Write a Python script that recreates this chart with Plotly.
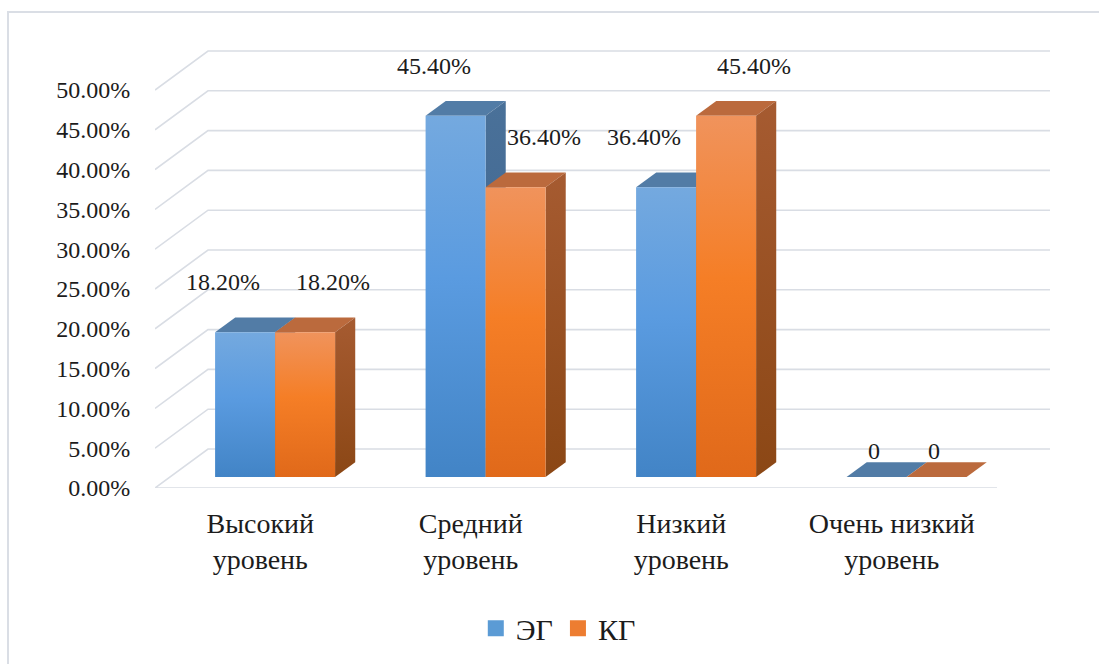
import plotly.graph_objects as go

# ---------------- data ----------------
categories = ["Высокий<br>уровень", "Средний<br>уровень", "Низкий<br>уровень", "Очень низкий<br>уровень"]
series_names = ["ЭГ", "КГ"]
eg_values = [18.2, 45.4, 36.4, 0.0]
kg_values = [18.2, 36.4, 45.4, 0.0]
y_ticks = [0, 5, 10, 15, 20, 25, 30, 35, 40, 45, 50]
y_tick_labels = ["0.00%", "5.00%", "10.00%", "15.00%", "20.00%", "25.00%",
                 "30.00%", "35.00%", "40.00%", "45.00%", "50.00%"]

# ---------------- style ----------------
FONT = "Liberation Serif, Times New Roman, serif"
TXT = "#1c1c1c"
GRID = "#d9dde4"
PX_PER_PCT = 7.96
PX_PER_CAT = 210.5
DX = 53 / PX_PER_CAT          # depth offset in category units
DY = 39 / PX_PER_PCT          # depth offset in percent units
F0, F1 = 0.28, 0.66           # bar depth span (fraction of full depth)
BAR_W = 60 / PX_PER_CAT

styles = [
    dict(front=[[0, "#4284c6"], [0.55, "#5a9be0"], [1, "#74a9df"]],
         side=[[0, "#395f8c"], [1, "#4a7199"]],
         top="#527ca6", legend="#5b9bd5", dx=-22, dx0=-3),
    dict(front=[[0, "#e0691a"], [0.55, "#f57e26"], [1, "#f0935c"]],
         side=[[0, "#8b4715"], [1, "#a65b31"]],
         top="#bb6a3d", legend="#ed7d31", dx=28, dx0=-3),
]

fig = go.Figure()

# ---------------- walls / gridlines ----------------
n = len(categories)
gx, gy = [], []
for t in y_ticks:
    if t == 0:
        gx += [n, 0]
        gy += [0, 0]
    else:
        gx += [0]
        gy += [t]
    gx += [DX, n + DX, None]
    gy += [t + DY, t + DY, None]
fig.add_trace(go.Scatter(x=gx, y=gy, mode="lines", line=dict(color=GRID, width=1.6),
                         hoverinfo="skip", showlegend=False))

# ---------------- 3D bars ----------------
series_values = [eg_values, kg_values]
annotations = []
for i in range(n):
    for s, vals in enumerate(series_values):
        v = vals[i]
        st = styles[s]
        xl = i + 0.5 - BAR_W + s * BAR_W
        xr = xl + BAR_W
        a0x, a0y = F0 * DX, F0 * DY
        a1x, a1y = F1 * DX, F1 * DY
        # top face
        fig.add_trace(go.Scatter(
            x=[xl + a0x, xr + a0x, xr + a1x, xl + a1x, xl + a0x],
            y=[v + a0y, v + a0y, v + a1y, v + a1y, v + a0y],
            fill="toself", fillcolor=st["top"], mode="lines", line=dict(width=0),
            hoverinfo="skip", showlegend=False))
        if v > 0:
            # side face
            fig.add_trace(go.Scatter(
                x=[xr + a0x, xr + a0x, xr + a1x, xr + a1x, xr + a0x],
                y=[a0y, v + a0y, v + a1y, a1y, a0y],
                fill="toself", mode="lines", line=dict(width=0),
                fillgradient=dict(type="vertical", colorscale=st["side"]),
                hoverinfo="skip", showlegend=False))
            # front face
            fig.add_trace(go.Scatter(
                x=[xl + a0x, xr + a0x, xr + a0x, xl + a0x, xl + a0x],
                y=[a0y, a0y, v + a0y, v + a0y, a0y],
                fill="toself", mode="lines", line=dict(width=0),
                fillgradient=dict(type="vertical", colorscale=st["front"]),
                hoverinfo="skip", showlegend=False))
        label = f"{v:.2f}%" if v else "0"
        annotations.append(dict(
            x=(xl + xr) / 2 + a0x, y=v + a0y, xref="x", yref="y",
            text=label, showarrow=False, xshift=st["dx"] if v > 0 else st["dx0"],
            yshift=50 if v > 0 else 26,
            font=dict(family=FONT, size=24, color=TXT)))

# legend entries
for s, name in enumerate(series_names):
    fig.add_trace(go.Scatter(x=[None], y=[None], mode="markers", name=name,
                             marker=dict(symbol="square", size=18, color=styles[s]["legend"])))

plot_l, plot_r, plot_t, plot_b = 155, 1050, 40, 488
W, H = 1099, 664
ymax = (plot_b - plot_t) / PX_PER_PCT

fig.update_layout(
    width=W, height=H,
    margin=dict(l=plot_l, r=W - plot_r, t=plot_t, b=H - plot_b, autoexpand=False),
    paper_bgcolor="white", plot_bgcolor="white",
    font=dict(family=FONT, color=TXT),
    xaxis=dict(range=[0, n + DX], showgrid=False, zeroline=False, showline=False,
               tickvals=[i + 0.5 for i in range(n)], ticktext=categories,
               ticks="outside", ticklen=10, tickcolor="rgba(0,0,0,0)",
               tickfont=dict(family=FONT, size=28, color=TXT), fixedrange=True),
    yaxis=dict(range=[0, ymax], showgrid=False, zeroline=False, showline=False,
               tickvals=y_ticks, ticktext=y_tick_labels,
               ticks="outside", ticklen=19, tickcolor="rgba(0,0,0,0)",
               tickfont=dict(family=FONT, size=24, color=TXT), fixedrange=True),
    showlegend=True,
    legend=dict(orientation="h", xref="container", yref="container",
                x=0.508, xanchor="center", y=0.054, yanchor="middle",
                font=dict(family=FONT, size=30, color=TXT), itemclick=False,
                itemwidth=30),
    annotations=annotations,
    shapes=[dict(type="rect", xref="paper", yref="paper", layer="below",
                 x0=(8 - plot_l) / (plot_r - plot_l), x1=(1110 - plot_l) / (plot_r - plot_l),
                 y0=(plot_b - 680) / (plot_b - plot_t), y1=(plot_b - 12) / (plot_b - plot_t),
                 line=dict(color="#dadee5", width=2), fillcolor="rgba(0,0,0,0)")],
)

fig.write_html("out.html", config={"displayModeBar": False},
               post_script="document.body.style.margin='0';")
